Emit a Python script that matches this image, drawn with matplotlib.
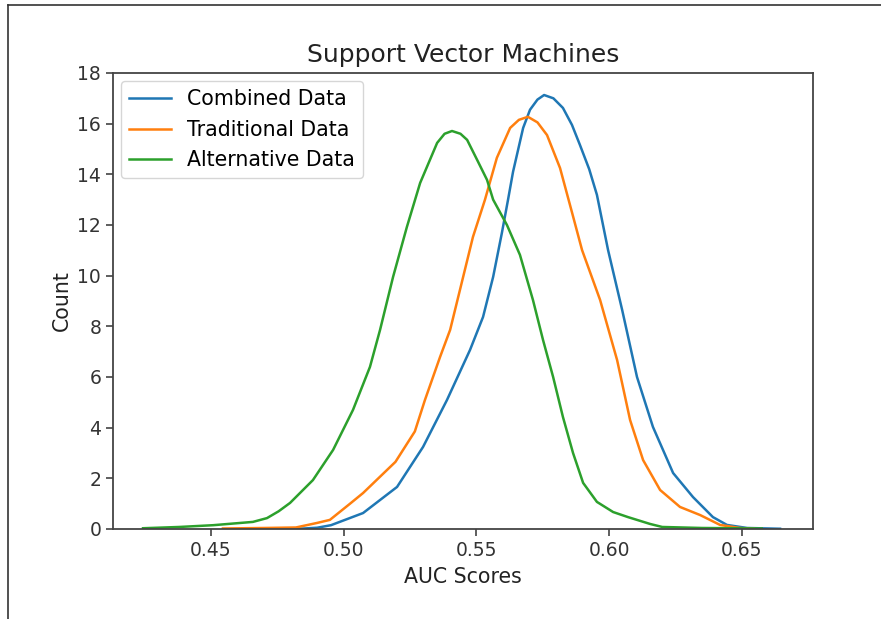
import matplotlib
matplotlib.use('Agg')
import matplotlib.pyplot as plt
from matplotlib.lines import Line2D

# AUC-verdier lest av figuren (x, tetthet)
combined_x = [0.475, 0.485, 0.490, 0.4952, 0.5073, 0.5201, 0.5299, 0.5389, 0.5476, 0.5525,
              0.5563, 0.5596, 0.5619, 0.5638, 0.5676, 0.5702, 0.5730, 0.5755, 0.5790, 0.5826,
              0.5860, 0.5890, 0.5925, 0.5954, 0.5996, 0.6049, 0.6105, 0.6165, 0.6241, 0.6316,
              0.6391, 0.6444, 0.6520, 0.6644]
combined_y = [0.0, 0.02, 0.05, 0.15, 0.63, 1.66, 3.24, 5.09, 7.07, 8.37,
              9.95, 11.69, 12.99, 14.1, 15.83, 16.55, 16.95, 17.13, 17.0, 16.62,
              15.95, 15.16, 14.2, 13.19, 11.01, 8.65, 6.0, 4.03, 2.21, 1.26,
              0.47, 0.16, 0.04, 0.01]

traditional_x = [0.4545, 0.470, 0.482, 0.490, 0.4948, 0.5024, 0.5073, 0.5195, 0.5268, 0.5306,
                 0.5363, 0.5401, 0.5450, 0.5487, 0.5532, 0.5577, 0.5627, 0.5660, 0.5694, 0.5730,
                 0.5766, 0.5815, 0.5860, 0.5898, 0.5966, 0.6030, 0.6079, 0.6128, 0.6192, 0.6267,
                 0.6343, 0.6418, 0.6493, 0.6545]
traditional_y = [0.02, 0.04, 0.06, 0.24, 0.36, 1.0, 1.42, 2.65, 3.85, 5.09,
                 6.79, 7.86, 9.95, 11.53, 12.99, 14.65, 15.83, 16.15, 16.27, 16.05,
                 15.55, 14.25, 12.5, 11.01, 9.04, 6.67, 4.3, 2.72, 1.54, 0.87,
                 0.55, 0.16, 0.04, 0.01]

alternative_x = [0.4244, 0.4380, 0.4508, 0.4658, 0.4711, 0.4755, 0.4798, 0.4884, 0.4960, 0.5035,
                 0.5099, 0.5137, 0.5186, 0.5238, 0.5288, 0.5352, 0.5380, 0.5408, 0.5440, 0.5465,
                 0.5506, 0.5540, 0.5563, 0.5615, 0.5664, 0.5713, 0.5751, 0.5789, 0.5826, 0.5864,
                 0.5902, 0.5954, 0.6015, 0.6071, 0.6154, 0.6200, 0.6350, 0.6575]
alternative_y = [0.03, 0.08, 0.15, 0.28, 0.43, 0.7, 1.03, 1.93, 3.12, 4.70,
                 6.4, 7.86, 9.95, 11.92, 13.66, 15.24, 15.6, 15.71, 15.6, 15.36,
                 14.5, 13.78, 13.0, 12.0, 10.82, 9.04, 7.46, 6.0, 4.42, 3.0,
                 1.82, 1.07, 0.67, 0.47, 0.2, 0.08, 0.04, 0.02]

labels = ['Combined Data', 'Traditional Data', 'Alternative Data']
y_ticks = [0, 2, 4, 6, 8, 10, 12, 14, 16, 18]
x_ticks = [0.45, 0.50, 0.55, 0.60, 0.65]


def main():
    fig = plt.figure(figsize=(8.81, 6.19), dpi=100)
    ax = fig.add_axes([0.1283, 0.1454, 0.7945, 0.7367])

    ax.plot(combined_x, combined_y, color='#1f77b4', lw=1.8, label=labels[0])
    ax.plot(traditional_x, traditional_y, color='#ff7f0e', lw=1.8, label=labels[1])
    ax.plot(alternative_x, alternative_y, color='#2ca02c', lw=1.8, label=labels[2])

    ax.set_xlim(0.4131, 0.6768)
    ax.set_ylim(0, 18)
    ax.set_xticks(x_ticks)
    ax.set_xticklabels(['%.2f' % t for t in x_ticks])
    ax.set_yticks(y_ticks)
    ax.tick_params(labelsize=13.5, length=5, width=1.1, colors='#333333')
    for sp in ax.spines.values():
        sp.set_color('#444444')
        sp.set_linewidth(1.3)

    ax.set_title('Support Vector Machines', fontsize=18, color='#222222', pad=8)
    ax.set_xlabel('AUC Scores', fontsize=14.8, color='#222222', labelpad=5)
    ax.set_ylabel('Count', fontsize=14.8, color='#222222')
    ax.legend(loc='upper left', fontsize=14.8, borderaxespad=0.4)

    # skärmbildsram (övre och vänstra kanten)
    fig.add_artist(Line2D([8 / 881, 1.0], [1 - 5 / 619, 1 - 5 / 619],
                          transform=fig.transFigure, color='#333333', lw=1.2))
    fig.add_artist(Line2D([8 / 881, 8 / 881], [0.0, 1 - 5 / 619],
                          transform=fig.transFigure, color='#333333', lw=1.2))

    fig.savefig('out.png', dpi=100)


if __name__ == '__main__':
    main()
